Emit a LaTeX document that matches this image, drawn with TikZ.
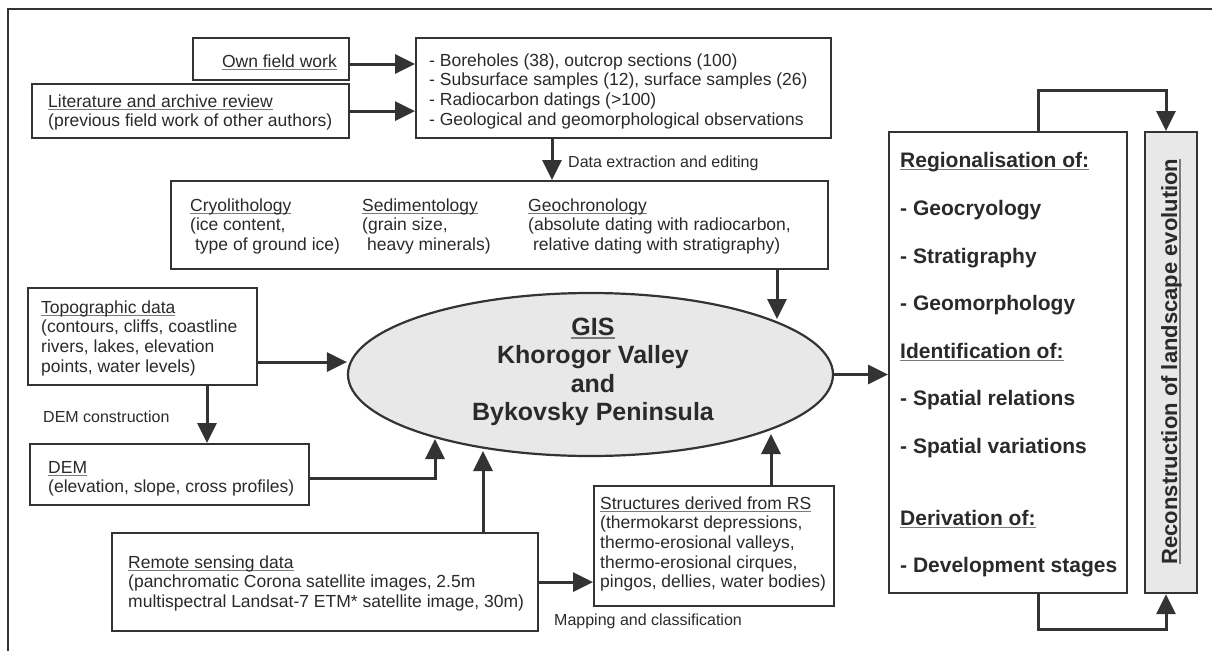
\documentclass[tikz,border=0pt]{standalone}
\usepackage{fontspec}
\setmainfont{Liberation Sans}
\usetikzlibrary{shapes.geometric,arrows.meta}
\definecolor{lc}{HTML}{333333}
\definecolor{tc}{HTML}{2A2A2A}
\definecolor{ulc}{HTML}{7A7A7A}
\definecolor{gfill}{HTML}{E8E8E8}
\newsavebox\ulbox
\newcommand\ulx[1]{\sbox\ulbox{#1}\rlap{\color{ulc}\rule[-0.16em]{\wd\ulbox}{0.07em}}\usebox\ulbox}
\newcommand\regf{\fontsize{17.5}{19.7}\selectfont}
\newcommand\labf{\fontsize{16}{19}\selectfont}
\newcommand\bigf{\fontsize{21}{25}\selectfont\bfseries}
\newcommand\ellf{\fontsize{25}{28.5}\selectfont\bfseries}
\newcommand\recf{\fontsize{22}{26}\selectfont\bfseries}
\tikzset{
  box/.style={draw=lc, line width=2.2pt, fill=white, inner sep=0pt, anchor=north west},
  txt/.style={inner sep=0pt, anchor=base west, align=left, text=tc, font=\regf},
  lab/.style={inner sep=0pt, anchor=base west, text=tc, font=\labf},
  bigt/.style={inner sep=0pt, anchor=base west, text=tc, font=\bigf},
  arr/.style={draw=lc, line width=3pt, -{Triangle[length=20pt,width=19pt]}},
}
\begin{document}
\begin{tikzpicture}[x=1pt,y=-1pt]
\useasboundingbox (0,0) rectangle (1212,651);
% frame (cropped)
\draw[lc, line width=2pt] (8,651) -- (8,9) -- (1212,9);

% boxes
\node[box, minimum width=156pt, minimum height=42pt] (own) at (192,37) {};
\node[box, minimum width=317pt, minimum height=54pt] (lit) at (31,83) {};
\node[box, minimum width=415pt, minimum height=100pt] (data) at (415,37) {};
\node[box, minimum width=657pt, minimum height=88pt] (mid) at (170,180) {};
\node[box, minimum width=229pt, minimum height=97pt] (topo) at (27,287) {};
\node[box, minimum width=279pt, minimum height=61pt] (dem) at (29,443) {};
\node[box, minimum width=426pt, minimum height=98pt] (rs) at (111,532) {};
\node[box, minimum width=240pt, minimum height=120pt] (str) at (593,485) {};
\node[box, minimum width=238pt, minimum height=461pt] (reg) at (888,131) {};
\node[box, fill=gfill, minimum width=52pt, minimum height=461pt] (rec) at (1144,131) {};
\node[ellipse, draw=lc, line width=2.2pt, fill=gfill, inner sep=0pt,
      minimum width=485pt, minimum height=163pt] (ell) at (590.5,374.5) {};

% texts (multi-line nodes are anchored on the baseline of their last line)
\node[txt, anchor=base east] (owntxt) at (337,67) {\ulx{Own field work}};
\node[txt] (littxt) at (48,126.7) {\ulx{Literature and archive review}\\(previous field work of other authors)};
\node[txt] (datatxt) at (429,125.1) {- Boreholes (38), outcrop sections (100)\\- Subsurface samples (12), surface samples (26)\\- Radiocarbon datings (>100)\\- Geological and geomorphological observations};
\node[lab] (dextr) at (568,167) {Data extraction and editing};
\node[txt] (cryo) at (190,250.4) {\ulx{Cryolithology}\\(ice content,\\\hspace*{4.9pt}type of ground ice)};
\node[txt] (sedi) at (362,250.4) {\ulx{Sedimentology}\\(grain size,\\\hspace*{4.9pt}heavy minerals)};
\node[txt] (geoc) at (528,250.4) {\ulx{Geochronology}\\(absolute dating with radiocarbon,\\\hspace*{4.9pt}relative dating with stratigraphy)};
\node[txt] (topotxt) at (41,372.1) {\ulx{Topographic data}\\(contours, cliffs, coastline\\rivers, lakes, elevation\\points, water levels)};
\node[lab] (demc) at (43,422) {DEM construction};
\node[txt] (demtxt) at (48,492.7) {\ulx{DEM}\\(elevation, slope, cross profiles)};
\node[txt] (rstxt) at (128,607.4) {\ulx{Remote sensing data}\\(panchromatic Corona satellite images, 2.5m\\multispectral Landsat-7 ETM* satellite image, 30m)};
\node[txt] (strtxt) at (600,587.8) {\ulx{Structures derived from RS}\\(thermokarst depressions,\\thermo-erosional valleys,\\thermo-erosional cirques,\\pingos, dellies, water bodies)};
\node[lab] (mapc) at (554,625) {Mapping and classification};
\node[inner sep=0pt, anchor=base, align=center, text=tc, font=\ellf] (elltxt) at (593,420.5)
  {\ulx{GIS}\\Khorogor Valley\\and\\Bykovsky Peninsula};
\node[bigt] (r1) at (900,167) {\ulx{Regionalisation of:}};
\node[bigt] (r2) at (900,215) {- Geocryology};
\node[bigt] (r3) at (900,263) {- Stratigraphy};
\node[bigt] (r4) at (900,310) {- Geomorphology};
\node[bigt] (r5) at (900,358) {\ulx{Identification of:}};
\node[bigt] (r6) at (900,405) {- Spatial relations};
\node[bigt] (r7) at (900,453) {- Spatial variations};
\node[bigt] (r8) at (900,525) {\ulx{Derivation of:}};
\node[bigt] (r9) at (900,572) {- Development stages};
\node[inner sep=0pt, anchor=base, rotate=90, text=tc, font=\recf] (rectxt) at (1177,361.5)
  {\ulx{Reconstruction of landscape evolution}};

% helper coordinates
\coordinate (c1) at (0,64);
\coordinate (c2) at (552,0);
\coordinate (c3) at (777,0);
\coordinate (c3e) at (777,319);
\coordinate (c4) at (0,362);
\coordinate (c5) at (207,0);
\coordinate (c6) at (0,478);
\coordinate (c6e) at (435,439);
\coordinate (c7) at (483,0);
\coordinate (c7e) at (483,451);
\coordinate (c8) at (771,0);
\coordinate (c8e) at (771,434);
\coordinate (c9) at (1038,90);
\coordinate (c10) at (1166,0);
\coordinate (c11) at (1038,629);

% connectors
\draw[arr] (own.east |- c1) -- (data.west |- c1);
\draw[arr] (lit.east) -- (data.west |- lit.east);
\draw[arr] (data.south -| c2) -- (mid.north -| c2);
\draw[arr] (mid.south -| c3) -- (c3e);
\draw[arr] (topo.east |- c4) -- (ell.west |- c4);
\draw[arr] (topo.south -| c5) -- (dem.north -| c5);
\draw[arr] (dem.east |- c6) -| (c6e);
\draw[arr] (rs.north -| c7) -- (c7e);
\draw[arr] (rs.east) -- (str.west |- rs.east);
\draw[arr] (str.north -| c8) -- (c8e);
\draw[arr] (ell.east) -- (reg.west |- ell.east);
\draw[arr] (reg.north -| c9) -- (c9) -| (rec.north -| c10);
\draw[arr] (reg.south -| c11) -- (c11) -| (rec.south -| c10);
\end{tikzpicture}
\end{document}
